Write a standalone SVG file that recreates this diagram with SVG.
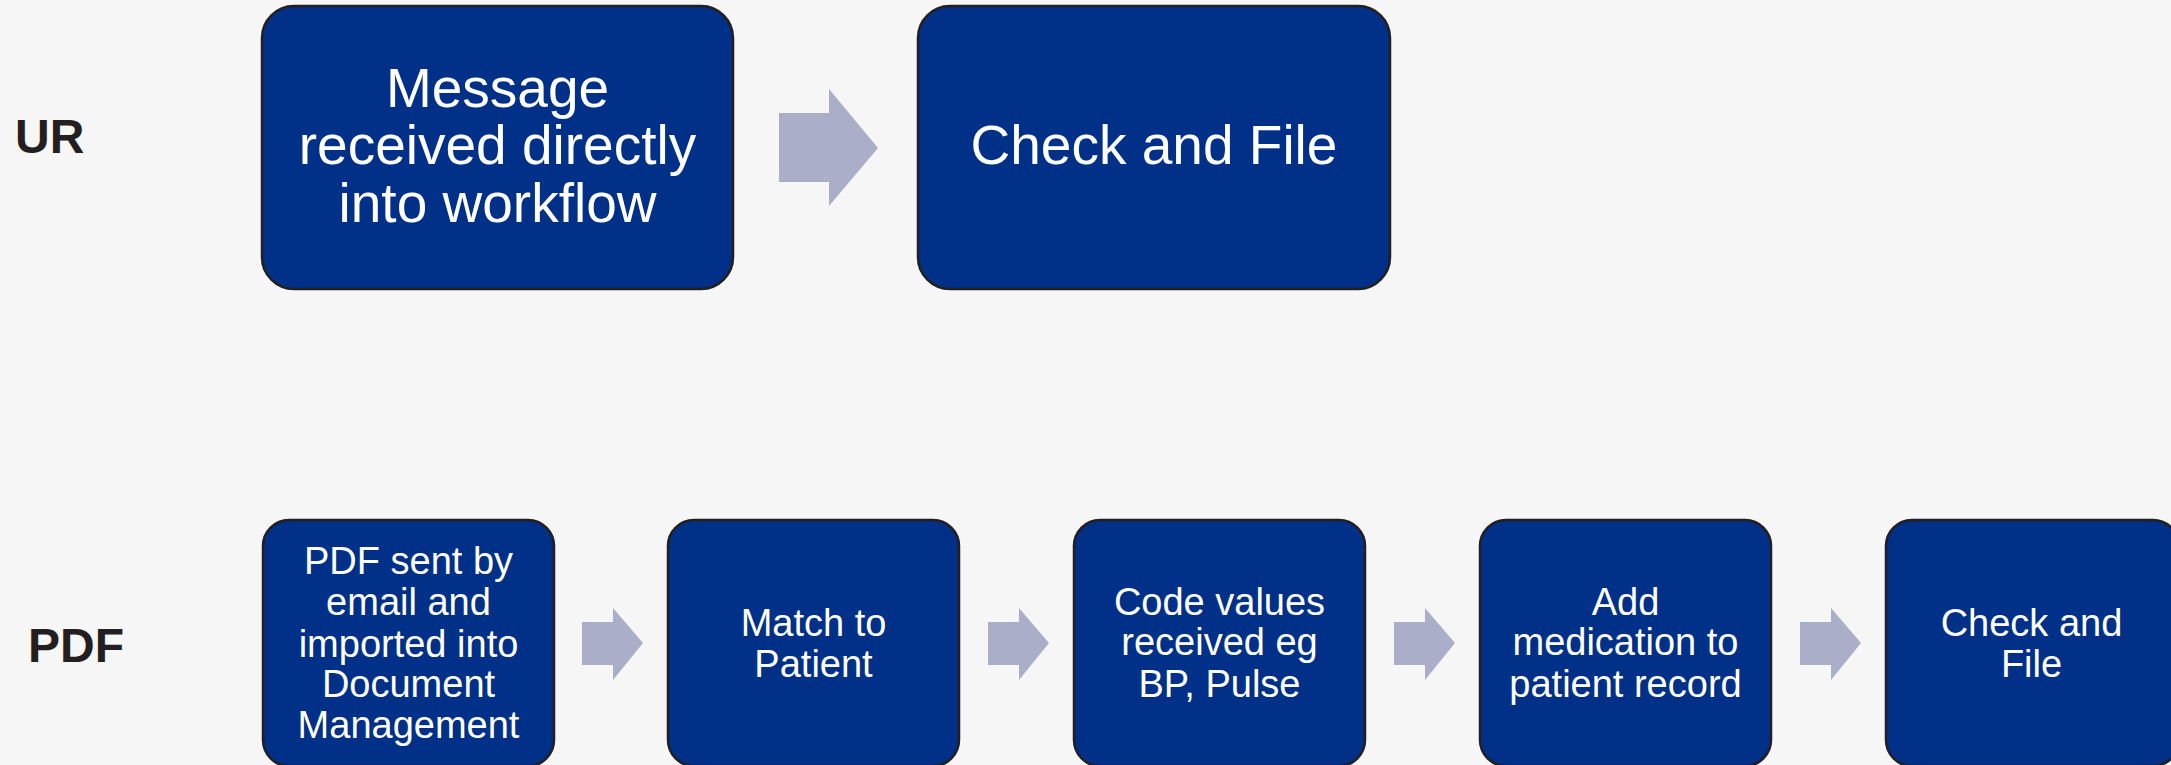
<svg xmlns="http://www.w3.org/2000/svg" width="2171" height="765" viewBox="0 0 2171 765">
<style>
.bg{fill:#F5F6F5}
.box{fill:#003087;stroke:#231F20;stroke-width:2.5}
.arrow{fill:#ABAEC8}
.lbl{font-family:"Liberation Sans",Arial,sans-serif;font-weight:bold;font-size:48px;fill:#231F20}
.big{font-family:"Liberation Sans",Arial,sans-serif;font-size:55px;fill:#FFFFFF;text-anchor:middle}
.sm{font-family:"Liberation Sans",Arial,sans-serif;font-size:38px;fill:#FFFFFF;text-anchor:middle}
</style>
<rect class="bg" x="0" y="0" width="2171" height="765"/>
<g id="label-ur"><text class="lbl" x="15" y="153">UR</text></g>
<g id="label-pdf"><text class="lbl" x="28" y="662">PDF</text></g>
<g id="node-ur1">
<rect class="box" x="262" y="6" width="471" height="283" rx="32"/>
<text class="big" x="497.5"><tspan x="497.5" y="107">Message</tspan><tspan x="497.5" y="164">received directly</tspan><tspan x="497.5" y="222">into workflow</tspan></text>
</g>
<g id="node-ur2">
<rect class="box" x="918" y="6" width="472" height="283" rx="32"/>
<text class="big" x="1154" y="164">Check and File</text>
</g>
<g id="node-pdf1">
<rect class="box" x="263" y="520" width="291" height="246" rx="26"/>
<text class="sm"><tspan x="408.5" y="574">PDF sent by</tspan><tspan x="408.5" y="615">email and</tspan><tspan x="408.5" y="657">imported into</tspan><tspan x="408.5" y="697">Document</tspan><tspan x="408.5" y="738">Management</tspan></text>
</g>
<g id="node-pdf2">
<rect class="box" x="668" y="520" width="291" height="246" rx="26"/>
<text class="sm"><tspan x="813.5" y="636">Match to</tspan><tspan x="813.5" y="677">Patient</tspan></text>
</g>
<g id="node-pdf3">
<rect class="box" x="1074" y="520" width="291" height="246" rx="26"/>
<text class="sm"><tspan x="1219.5" y="615">Code values</tspan><tspan x="1219.5" y="655">received eg</tspan><tspan x="1219.5" y="697">BP, Pulse</tspan></text>
</g>
<g id="node-pdf4">
<rect class="box" x="1480" y="520" width="291" height="246" rx="26"/>
<text class="sm"><tspan x="1625.5" y="615">Add</tspan><tspan x="1625.5" y="655">medication to</tspan><tspan x="1625.5" y="697">patient record</tspan></text>
</g>
<g id="node-pdf5">
<rect class="box" x="1886" y="520" width="293" height="246" rx="26"/>
<text class="sm"><tspan x="2031.5" y="636">Check and</tspan><tspan x="2031.5" y="677">File</tspan></text>
</g>
<g id="connectors">
<polygon class="arrow" points="779,113 829,113 829,89 878,148 829,206 829,182 779,182"/>
<polygon class="arrow" points="582,622 613,622 613,608 643,643 613,680 613,665 582,665"/>
<polygon class="arrow" points="988,622 1019,622 1019,608 1049,643 1019,680 1019,665 988,665"/>
<polygon class="arrow" points="1394,622 1425,622 1425,608 1455,643 1425,680 1425,665 1394,665"/>
<polygon class="arrow" points="1800,622 1831,622 1831,608 1861,643 1831,680 1831,665 1800,665"/>
</g>
</svg>
